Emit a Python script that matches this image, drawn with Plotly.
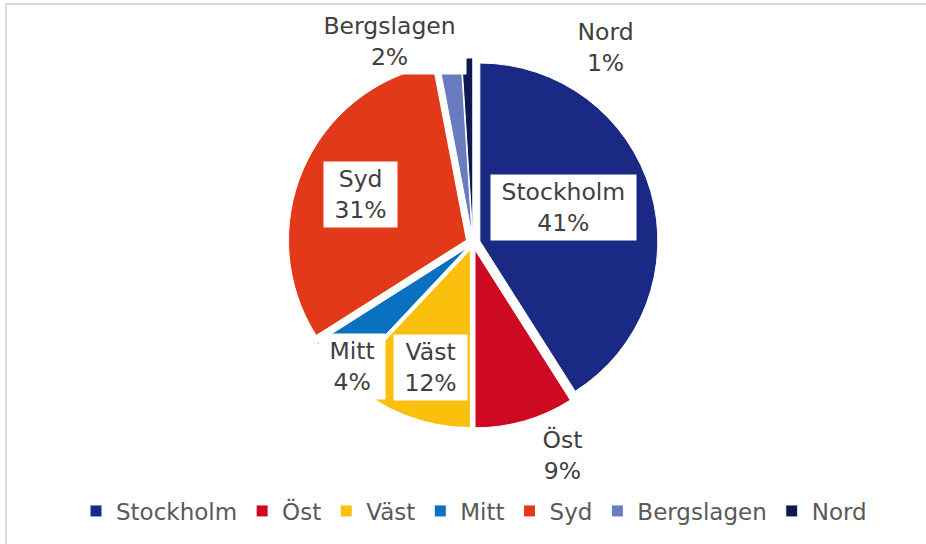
import math
import plotly.graph_objects as go

# ---- data ----
regions = ["Stockholm", "Öst", "Väst", "Mitt", "Syd", "Bergslagen", "Nord"]
shares = [41, 9, 12, 4, 31, 2, 1]
colors = ["#1A2A84", "#CE0A22", "#FBBF0E", "#0A70C0", "#E2391A", "#6A7CC0", "#0D1A4F"]

# ---- layout (pixel geometry) ----
W, H = 926, 544
CX, CY, R = 473, 243, 178       # pie centre and radius in px
PULL = 0.04
# label placement: (radius factor, angle nudge in degrees) relative to slice bisector
label_place = [(0.546, -5.2), (1.294, -6.8), (0.739, -2.75), (0.973, -6.1),
               (0.690, 0.0), (1.226, -15.4), (1.329, 36.0)]

Rdom = R * (1 + PULL)
domain_x = [(CX - Rdom) / W, (CX + Rdom) / W]
domain_y = [(H - CY - Rdom) / H, (H - CY + Rdom) / H]

fig = go.Figure(go.Pie(
    labels=regions, values=shares, sort=False, direction="clockwise", rotation=0,
    marker=dict(colors=colors, line=dict(color="white", width=1)),
    pull=[PULL] * len(regions), textinfo="none", hoverinfo="label+percent",
    domain=dict(x=domain_x, y=domain_y),
))

total = sum(shares)
cum = 0
nb = "\u00a0"
annotations = []
for lab, v, (rf, nudge) in zip(regions, shares, label_place):
    mid = (cum + v / 2) / total * 360
    cum += v
    th = math.radians(mid + nudge)
    x_px = CX + rf * R * math.sin(th)
    y_px = CY - rf * R * math.cos(th)
    annotations.append(dict(
        x=x_px / W, y=1 - y_px / H, xref="paper", yref="paper",
        text=f"{nb}{lab}{nb}<br>{nb}{v}%{nb}", showarrow=False,
        font=dict(family="DejaVu Sans", size=23.5, color="#404040"),
        bgcolor="white", borderpad=3, xanchor="center", yanchor="middle",
    ))

fig.update_layout(
    width=W, height=H, margin=dict(l=0, r=0, t=0, b=0),
    paper_bgcolor="white", plot_bgcolor="white",
    font=dict(family="DejaVu Sans", color="#595959"),
    annotations=annotations,
    showlegend=True,
    legend=dict(orientation="h", x=474 / W, xanchor="center", y=1 - 511 / H, yanchor="middle",
                font=dict(family="DejaVu Sans", size=23, color="#595959"),
                bgcolor="rgba(0,0,0,0)"),
    shapes=[dict(type="rect", xref="paper", yref="paper", x0=6 / W, x1=1.02, y0=-0.02, y1=1 - 4 / H,
                 line=dict(color="#D9D9D9", width=2), layer="below")],
)

fig.write_html("out.html", config={"displayModeBar": False},
               post_script="document.body.style.margin='0';document.body.style.overflow='hidden';")
